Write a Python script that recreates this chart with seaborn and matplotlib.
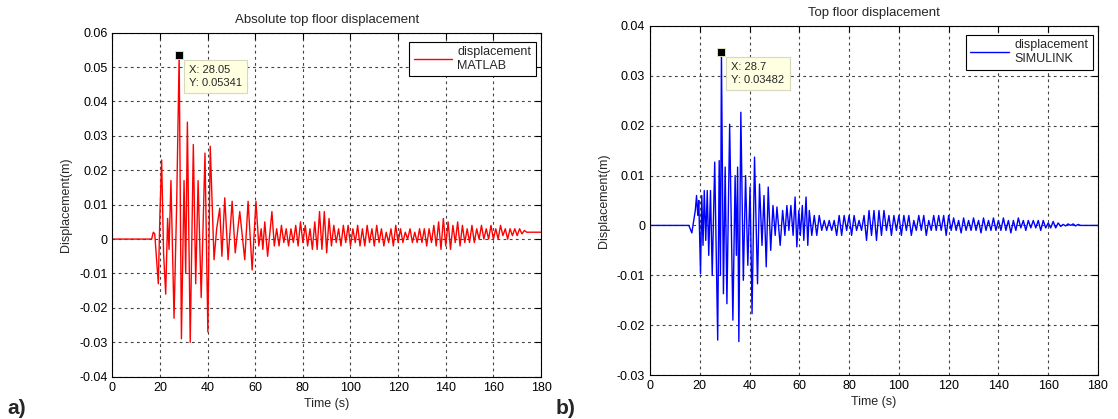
import matplotlib
matplotlib.use("Agg")
import pandas as pd
import seaborn as sns
import matplotlib.pyplot as plt
from matplotlib.ticker import MultipleLocator, FuncFormatter

# --- a) MATLAB: extremes (time s, displacement m)
matlab_t = [0, 16.5, 17.2, 17.8, 18.6, 19.3, 20.0, 20.7, 21.5, 22.4,
            23.2, 23.8, 24.6, 25.9, 27.0, 28.05, 29.0, 30.1, 30.8, 31.5,
            32.7, 34.0, 35.0, 36.0, 37.3, 38.9, 40.1, 41.1, 42.7, 43.8,
            45.1, 46.0, 47.2, 48.6, 50.3, 51.6, 53.5, 55.6, 57.0, 58.7,
            60.3, 61.5, 62.5, 63.2, 64.0, 65.2, 67.0, 68.0]
matlab_d = [0, 0, 0.002, 0.0015, -0.006, -0.013, 0.008, 0.023, -0.004, -0.016,
            0.006, -0.003, 0.017, -0.023, 0.010, 0.05341, -0.029, 0.017, -0.010, 0.034,
            -0.030, 0.0275, -0.013, 0.017, -0.017, 0.025, -0.027, 0.027, -0.006, 0.003,
            0.009, -0.005, 0.012, -0.006, 0.011, -0.004, 0.008, -0.006, 0.011, -0.009,
            0.011, -0.002, 0.003, -0.003, 0.005, -0.005, 0.008, -0.002]
matlab_tail_t = [69, 70, 71, 72, 73, 74, 75, 76, 77, 78,
                 79, 80, 81, 82, 83, 84, 85, 86, 87, 88,
                 89, 90, 91, 92, 93, 94, 95, 96, 97, 98,
                 99, 100, 101, 102, 103, 104, 105, 106, 107, 108,
                 109, 110, 111, 112, 113, 114, 115, 116, 117, 118,
                 119, 120, 121, 122, 123, 124, 125, 126, 127, 128,
                 129, 130, 131, 132, 133, 134, 135, 136, 137, 138,
                 139, 140, 141, 142, 143, 144, 145, 146, 147, 148,
                 149, 150, 151, 152, 153, 154, 155, 156, 157, 158,
                 159, 160, 161, 162, 163, 164, 165, 166, 167, 168,
                 169, 170, 171, 172, 173, 174, 180]
matlab_tail_d = [0.003, -0.002, 0.004, -0.001, 0.003, -0.002, 0.003, -0.001, 0.004, -0.002,
                 0.005, -0.001, 0.004, -0.002, 0.003, -0.003, 0.005, -0.003, 0.008, -0.003,
                 0.008, -0.004, 0.006, -0.002, 0.004, -0.001, 0.003, -0.002, 0.004, -0.001,
                 0.004, -0.002, 0.003, -0.001, 0.004, -0.002, 0.003, -0.002, 0.004, -0.001,
                 0.003, -0.002, 0.004, -0.001, 0.003, -0.002, 0.002, -0.001, 0.003, -0.002,
                 0.004, -0.001, 0.003, -0.001, 0.002, 0.0, 0.003, -0.001, 0.002, -0.001,
                 0.003, -0.001, 0.003, -0.002, 0.003, -0.001, 0.004, -0.002, 0.005, -0.003,
                 0.006, -0.002, 0.005, -0.003, 0.004, -0.001, 0.005, -0.002, 0.004, -0.001,
                 0.003, -0.001, 0.004, -0.001, 0.003, 0.0, 0.004, 0.0, 0.003, 0.0,
                 0.004, 0.0, 0.003, 0.0, 0.004, 0.001, 0.003, 0.0, 0.003, 0.001,
                 0.003, 0.001, 0.003, 0.0015, 0.0025, 0.002, 0.002]

# --- b) SIMULINK
simulink_t = [0, 15.6, 16.8, 17.6, 18.2, 18.7, 19.2, 19.6, 20.3, 20.8,
              21.3, 21.8, 22.4, 23.0, 23.6, 24.3, 25.0, 26.0, 27.2, 27.8,
              28.3, 28.7, 29.5, 30.2, 30.9, 32.0, 33.3, 34.2, 34.7, 35.2,
              35.7, 36.5, 37.5, 38.4, 39.3, 40.2, 41.0, 42.0, 43.2, 44.0,
              45.0, 45.8, 46.7, 47.5, 48.5, 49.4, 50.3, 51.0, 52.3, 53.3,
              54.2, 55.0, 55.8, 56.6, 57.5, 58.3, 59.0, 59.8, 60.4, 61.2,
              61.8, 62.7, 63.4]
simulink_d = [0, 0, -0.0015, 0.001, 0.003, 0.006, 0.002, 0.005, -0.0097, 0.006,
              -0.004, 0.007, -0.003, 0.007, -0.006, 0.007, -0.010, 0.0127, -0.023, 0.013,
              -0.010, 0.03482, -0.0137, 0.0117, -0.0157, 0.0203, -0.019, 0.010, -0.006, 0.0117,
              -0.0233, 0.0227, -0.011, 0.010, -0.008, 0.0077, -0.0177, 0.0137, -0.0117, 0.0083,
              -0.004, 0.006, -0.0083, 0.0077, -0.005, 0.004, -0.002, 0.0037, -0.004, 0.003,
              -0.002, 0.004, -0.001, 0.004, -0.002, 0.0057, -0.0043, 0.003, -0.002, 0.004,
              -0.003, 0.0057, -0.004]
simulink_tail_t = [64, 65, 66, 67, 68, 69, 70, 71, 72, 73,
                   74, 75, 76, 77, 78, 79, 80, 81, 82, 83,
                   84, 85, 86, 87, 88, 89, 90, 91, 92, 93,
                   94, 95, 96, 97, 98, 99, 100, 101, 102, 103,
                   104, 105, 106, 107, 108, 109, 110, 111, 112, 113,
                   114, 115, 116, 117, 118, 119, 120, 121, 122, 123,
                   124, 125, 126, 127, 128, 129, 130, 131, 132, 133,
                   134, 135, 136, 137, 138, 139, 140, 141, 142, 143,
                   144, 145, 146, 147, 148, 149, 150, 151, 152, 153,
                   154, 155, 156, 157, 158, 159, 160, 161, 162, 163,
                   164, 165, 166, 167, 168, 169, 170, 171, 172, 173,
                   175, 180]
simulink_tail_d = [0.003, -0.002, 0.002, -0.002, 0.002, -0.001, 0.001, -0.001, 0.001, -0.001,
                   0.001, -0.002, 0.002, -0.002, 0.002, -0.001, 0.002, -0.002, 0.002, -0.001,
                   0.001, -0.001, 0.002, -0.003, 0.003, -0.002, 0.003, -0.003, 0.003, -0.002,
                   0.003, -0.001, 0.002, -0.002, 0.002, -0.001, 0.002, -0.002, 0.002, -0.001,
                   0.002, -0.002, 0.001, -0.001, 0.002, -0.001, 0.002, -0.002, 0.001, -0.001,
                   0.002, -0.001, 0.002, -0.001, 0.002, -0.002, 0.002, -0.001, 0.0015, -0.001,
                   0.001, -0.0015, 0.0015, -0.001, 0.001, -0.001, 0.0015, -0.001, 0.001, -0.0015,
                   0.0015, -0.001, 0.001, -0.001, 0.0015, -0.001, 0.001, -0.001, 0.0015, -0.001,
                   0.001, -0.0015, 0.001, -0.001, 0.0015, -0.0005, 0.001, -0.001, 0.001, -0.0005,
                   0.001, -0.0005, 0.001, -0.001, 0.001, -0.0005, 0.0005, -0.0005, 0.0008, -0.0005,
                   0.0005, -0.0002, 0.0002, -0.0001, 0.0003, 0.0, 0.0003, -0.0001, 0.0002, 0.0,
                   0.0, 0.0]

# data tips shown on the plots
matlab_peak = (28.05, 0.05341)
simulink_peak = (28.7, 0.03482)


def fmt_tick(v, pos):
    if abs(v) < 1e-9:
        return "0"
    return f"{round(v, 4):g}"


def draw_panel(ax, t, d, color, label, title, ylim, peak, tip_text):
    df = pd.DataFrame({"t": t, "d": d})
    sns.lineplot(data=df, x="t", y="d", ax=ax, color=color, lw=1.0,
                 label=label, estimator=None, sort=False)

    ax.set_xlim(0, 180)
    ax.set_ylim(*ylim)
    ax.xaxis.set_major_locator(MultipleLocator(20))
    ax.yaxis.set_major_locator(MultipleLocator(0.01))
    ax.yaxis.set_major_formatter(FuncFormatter(fmt_tick))
    ax.tick_params(direction="in", top=True, right=True, length=4,
                   width=0.8, labelsize=9, colors="black")
    ax.grid(True, color="#222222", linestyle=(0, (2.5, 3)), lw=0.8, alpha=0.85)
    for s in ax.spines.values():
        s.set_color("black")
        s.set_linewidth(0.8)

    ax.set_title(title, fontsize=9.5, pad=7)
    ax.set_xlabel("Time (s)", fontsize=9, labelpad=3)
    ax.set_ylabel("Displacement(m)", fontsize=9, labelpad=5)

    leg = ax.legend(loc="upper right", bbox_to_anchor=(0.988, 0.974),
                    borderaxespad=0, fontsize=9, frameon=True, fancybox=False,
                    edgecolor="black", framealpha=1, handlelength=3.1,
                    handletextpad=0.4, borderpad=0.35)
    leg.get_frame().set_linewidth(0.8)
    for txt in leg.get_texts():
        txt.set_multialignment("left")

    # data tip marker and box
    ax.plot([peak[0]], [peak[1]], marker="s", ms=5.5, color="black",
            mec="#f0f0c8", mew=0.6, zorder=5)
    ax.annotate(tip_text, xy=peak, xytext=(10, -10), textcoords="offset pixels",
                ha="left", va="top", fontsize=8, linespacing=1.35, zorder=6,
                bbox=dict(boxstyle="square,pad=0.45", fc="#ffffe1",
                          ec="#d8d8c0", lw=0.8))


sns.set_style("white")
plt.rcParams["font.family"] = ["Liberation Sans", "DejaVu Sans"]

fig = plt.figure(figsize=(11.18, 4.19), dpi=100)
ax_a = fig.add_axes([0.1005, 0.101, 0.3834, 0.821])
ax_b = fig.add_axes([0.5814, 0.105, 0.4007, 0.833])

draw_panel(ax_a, matlab_t + matlab_tail_t, matlab_d + matlab_tail_d, "#ff0000",
           "displacement\nMATLAB", "Absolute top floor displacement",
           (-0.04, 0.06), matlab_peak, "X: 28.05\nY: 0.05341")
draw_panel(ax_b, simulink_t + simulink_tail_t, simulink_d + simulink_tail_d, "#0000ff",
           "displacement\nSIMULINK", "Top floor displacement",
           (-0.03, 0.04), simulink_peak, "X: 28.7\nY: 0.03482")

fig.text(0.007, 0.012, "a)", fontsize=15, fontweight="bold")
fig.text(0.497, 0.012, "b)", fontsize=15, fontweight="bold")

fig.savefig("out.png", dpi=100)
